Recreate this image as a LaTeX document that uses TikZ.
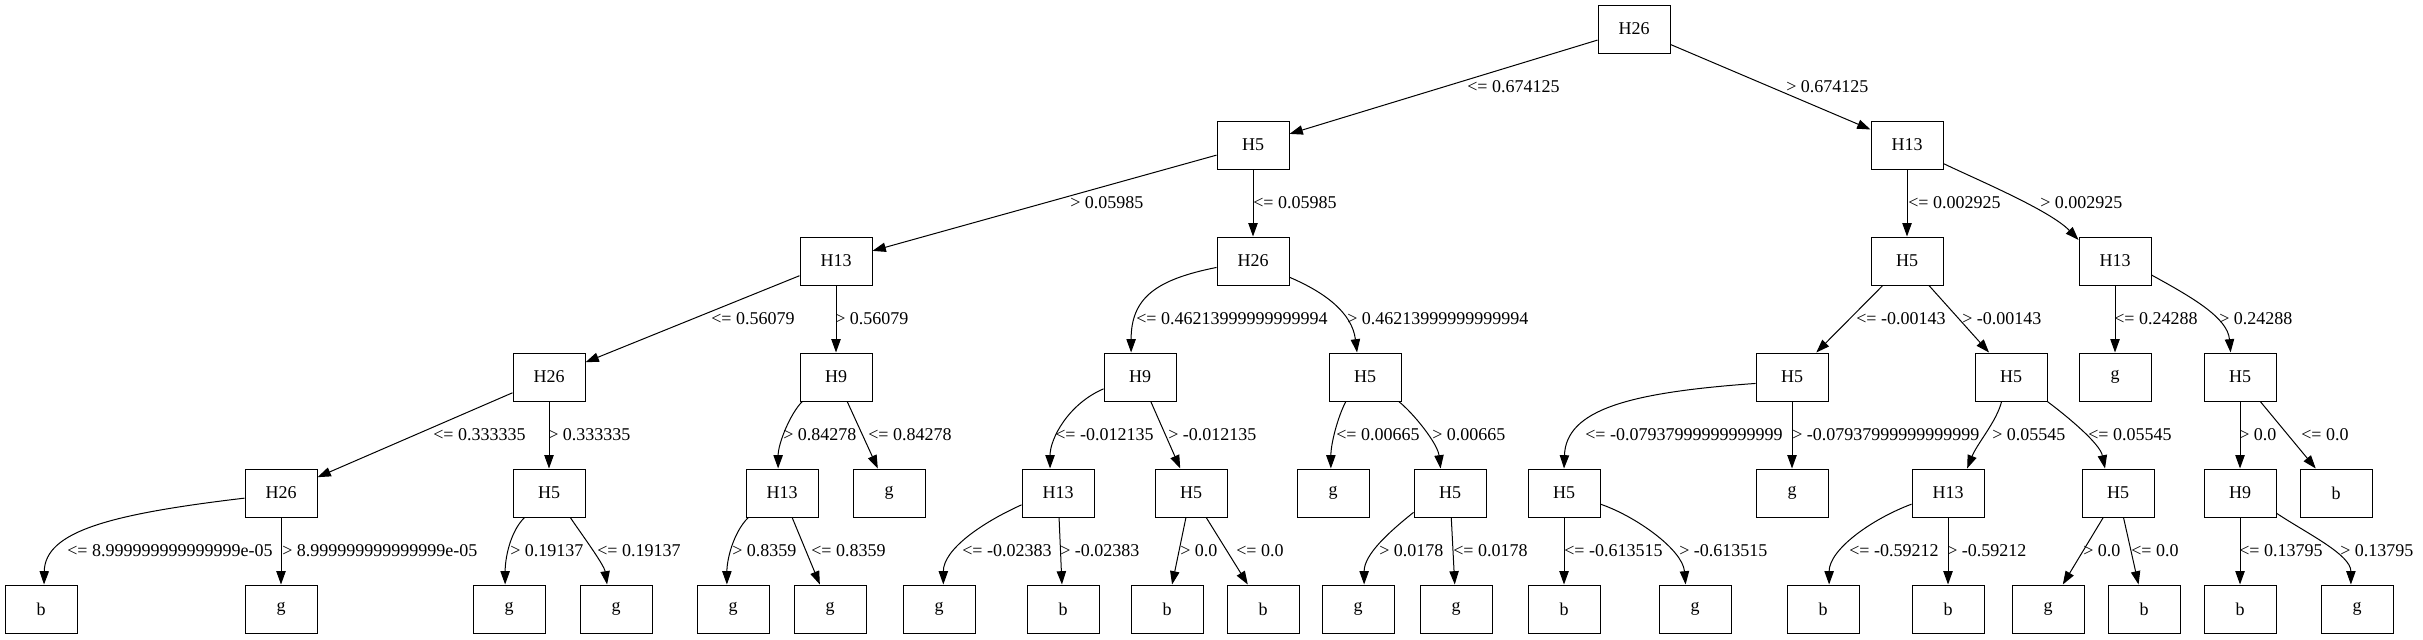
\documentclass[tikz,border=0pt]{standalone}
\usepackage{fontspec}
\setmainfont{Liberation Serif}
\usetikzlibrary{arrows.meta}
\begin{document}
\begin{tikzpicture}[x=0.75pt,y=-0.75pt,
  box/.style={draw, line width=0.75pt, minimum width=54pt, minimum height=36pt, inner sep=0pt, font=\fontsize{13.5}{16}\selectfont},
  edge/.style={line width=0.75pt, -{Triangle[length=10pt,width=7pt]}},
  lab/.style={anchor=west, inner sep=0pt, font=\fontsize{13.5}{16}\selectfont}]
\useasboundingbox (0,0) rectangle (2423,639);
% level 0
\node[box] (r) at (1634,29) {H26};
% level 1
\node[box] (n1a) at (1253,145) {H5};
\node[box] (n1b) at (1907,145) {H13};
% level 2
\node[box] (n2a) at (836,261) {H13};
\node[box] (n2b) at (1253,261) {H26};
\node[box] (n2c) at (1907,261) {H5};
\node[box] (n2d) at (2115,261) {H13};
% level 3
\node[box] (n3a) at (549,377) {H26};
\node[box] (n3b) at (836,377) {H9};
\node[box] (n3c) at (1140,377) {H9};
\node[box] (n3d) at (1365,377) {H5};
\node[box] (n3e) at (1792,377) {H5};
\node[box] (n3f) at (2011,377) {H5};
\node[box] (n3g) at (2115,377) {g};
\node[box] (n3h) at (2240,377) {H5};
% level 4
\node[box] (n4a) at (281,493) {H26};
\node[box] (n4b) at (549,493) {H5};
\node[box] (n4c) at (782,493) {H13};
\node[box] (n4d) at (889,493) {g};
\node[box] (n4e) at (1058,493) {H13};
\node[box] (n4f) at (1191,493) {H5};
\node[box] (n4g) at (1333,493) {g};
\node[box] (n4h) at (1450,493) {H5};
\node[box] (n4i) at (1564,493) {H5};
\node[box] (n4j) at (1792,493) {g};
\node[box] (n4k) at (1948,493) {H13};
\node[box] (n4l) at (2118,493) {H5};
\node[box] (n4m) at (2240,493) {H9};
\node[box] (n4n) at (2336,493) {b};
% level 5
\node[box] (n5a) at (41,609) {b};
\node[box] (n5b) at (281,609) {g};
\node[box] (n5c) at (509,609) {g};
\node[box] (n5d) at (616,609) {g};
\node[box] (n5e) at (733,609) {g};
\node[box] (n5f) at (830,609) {g};
\node[box] (n5g) at (939,609) {g};
\node[box] (n5h) at (1063,609) {b};
\node[box] (n5i) at (1167,609) {b};
\node[box] (n5j) at (1263,609) {b};
\node[box] (n5k) at (1358,609) {g};
\node[box] (n5l) at (1456,609) {g};
\node[box] (n5m) at (1564,609) {b};
\node[box] (n5n) at (1695,609) {g};
\node[box] (n5o) at (1823,609) {b};
\node[box] (n5p) at (1948,609) {b};
\node[box] (n5q) at (2048,609) {g};
\node[box] (n5r) at (2144,609) {b};
\node[box] (n5s) at (2240,609) {b};
\node[box] (n5t) at (2357,609) {g};

% edges level 0-1
\draw[edge] (r) -- (n1a);
\draw[edge] (r) -- (n1b);
% level 1-2
\draw[edge] (n1a) -- (n2a);
\draw[edge] (n1a) -- (n2b);
\draw[edge] (n1b) -- (n2c);
\draw[edge] (n1b.333) .. controls +(31,15) and +(-29,-30) .. (n2d.150);
% level 2-3
\draw[edge] (n2a) -- (n3a);
\draw[edge] (n2a) -- (n3b);
\draw[edge] (n2b.190) .. controls +(-60,12) and +(0,-55) .. (n3c.110);
\draw[edge] (n2b.336) .. controls +(35,15) and +(-5,-40) .. (n3d.108);
\draw[edge] (n2c) -- (n3e);
\draw[edge] (n2c) -- (n3f);
\draw[edge] (n2d) -- (n3g);
\draw[edge] (n2d.339) .. controls +(40,22) and +(-3,-35) .. (n3h.111);
% level 3-4
\draw[edge] (n3a) -- (n4a);
\draw[edge] (n3a) -- (n4b);
\draw[edge] (n3b.216) .. controls +(-12,12) and +(0,-25) .. (n4c.99);
\draw[edge] (n3b) -- (n4d);
\draw[edge] (n3c.198) .. controls +(-35,15) and +(0,-30) .. (n4e.108);
\draw[edge] (n3c) -- (n4f);
\draw[edge] (n3d.232) .. controls +(-8,15) and +(0,-25) .. (n4g.95);
\draw[edge] (n3d.324) .. controls +(15,12) and +(-3,-25) .. (n4h.111);
\draw[edge] (n3e.190) .. controls +(-126,9) and +(2,-59) .. (n4i.north);
\draw[edge] (n3e) -- (n4j);
\draw[edge] (n3f.249) .. controls +(-5,20) and +(10,-25) .. (n4k.52);
\draw[edge] (n3f.326) .. controls +(20,15) and +(-5,-25) .. (n4l.118);
\draw[edge] (n3h) -- (n4m);
\draw[edge] (n3h) -- (n4n);
% level 4-5
\draw[edge] (n4a.188) .. controls +(-135,16) and +(1,-53) .. (n5a.83);
\draw[edge] (n4a) -- (n5b);
\draw[edge] (n4b.225) .. controls +(-15,15) and +(0,-25) .. (n5c.99);
\draw[edge] (n4b.311) .. controls +(10,15) and +(-3,-20) .. (n5d.110);
\draw[edge] (n4c.216) .. controls +(-15,15) and +(0,-25) .. (n5e.104);
\draw[edge] (n4c) -- (n5f);
\draw[edge] (n4e.198) .. controls +(-40,18) and +(0,-35) .. (n5g.80);
\draw[edge] (n4e) -- (n5h);
\draw[edge] (n4f) -- (n5i);
\draw[edge] (n4f) -- (n5j);
\draw[edge] (n4h.208) .. controls +(-25,20) and +(0,-30) .. (n5k.76);
\draw[edge] (n4h) -- (n5l);
\draw[edge] (n4i) -- (n5m);
\draw[edge] (n4i.343) .. controls +(35,12) and +(-3,-35) .. (n5n.111);
\draw[edge] (n4k.197) .. controls +(-40,15) and +(0,-35) .. (n5o.76);
\draw[edge] (n4k) -- (n5p);
\draw[edge] (n4l) -- (n5q);
\draw[edge] (n4l) -- (n5r);
\draw[edge] (n4m) -- (n5s);
\draw[edge] (n4m.331) .. controls +(30,20) and +(0,-30) .. (n5t.104);

% labels
\node[lab] (l01) at (1467,87) {<= 0.674125};
\node[lab] (l02) at (1786,87) {> 0.674125};
\node[lab] (l03) at (1070,203) {> 0.05985};
\node[lab] (l04) at (1253,203) {<= 0.05985};
\node[lab] (l05) at (1908,203) {<= 0.002925};
\node[lab] (l06) at (2040,203) {> 0.002925};
\node[lab] (l07) at (711,319) {<= 0.56079};
\node[lab] (l08) at (835,319) {> 0.56079};
\node[lab] (l09) at (1136,319) {<= 0.46213999999999994};
\node[lab] (l10) at (1347,319) {> 0.46213999999999994};
\node[lab] (l11) at (1856,319) {<= -0.00143};
\node[lab] (l12) at (1962,319) {> -0.00143};
\node[lab] (l13) at (2114,319) {<= 0.24288};
\node[lab] (l14) at (2219,319) {> 0.24288};
\node[lab] (l15) at (433,435) {<= 0.333335};
\node[lab] (l16) at (548,435) {> 0.333335};
\node[lab] (l17) at (783,435) {> 0.84278};
\node[lab] (l18) at (868,435) {<= 0.84278};
\node[lab] (l19) at (1055,435) {<= -0.012135};
\node[lab] (l20) at (1168,435) {> -0.012135};
\node[lab] (l21) at (1336,435) {<= 0.00665};
\node[lab] (l22) at (1432,435) {> 0.00665};
\node[lab] (l23) at (1585,435) {<= -0.07937999999999999};
\node[lab] (l24) at (1792,435) {> -0.07937999999999999};
\node[lab] (l25) at (1992,435) {> 0.05545};
\node[lab] (l26) at (2088,435) {<= 0.05545};
\node[lab] (l27) at (2239,435) {> 0.0};
\node[lab] (l28) at (2301,435) {<= 0.0};
\node[lab] (l29) at (67,551) {<= 8.999999999999999e-05};
\node[lab] (l30) at (282,551) {> 8.999999999999999e-05};
\node[lab] (l31) at (510,551) {> 0.19137};
\node[lab] (l32) at (597,551) {<= 0.19137};
\node[lab] (l33) at (732,551) {> 0.8359};
\node[lab] (l34) at (811,551) {<= 0.8359};
\node[lab] (l35) at (962,551) {<= -0.02383};
\node[lab] (l36) at (1060,551) {> -0.02383};
\node[lab] (l37) at (1180,551) {> 0.0};
\node[lab] (l38) at (1236,551) {<= 0.0};
\node[lab] (l39) at (1379,551) {> 0.0178};
\node[lab] (l40) at (1453,551) {<= 0.0178};
\node[lab] (l41) at (1564,551) {<= -0.613515};
\node[lab] (l42) at (1679,551) {> -0.613515};
\node[lab] (l43) at (1849,551) {<= -0.59212};
\node[lab] (l44) at (1947,551) {> -0.59212};
\node[lab] (l45) at (2083,551) {> 0.0};
\node[lab] (l46) at (2131,551) {<= 0.0};
\node[lab] (l47) at (2239,551) {<= 0.13795};
\node[lab] (l48) at (2340,551) {> 0.13795};
\end{tikzpicture}
\end{document}
